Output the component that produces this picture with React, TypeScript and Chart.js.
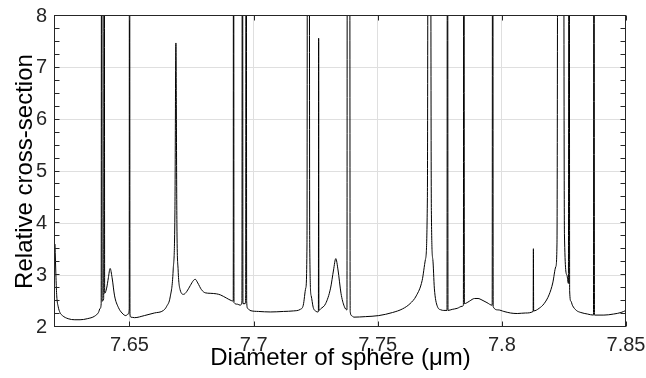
import { useEffect, useRef } from 'react';
import { Chart, registerables } from 'chart.js';

Chart.register(...registerables);

// Diameter of sphere (µm)
const diameter = [
  7.6200, 7.6204, 7.6207, 7.6213, 7.6220, 7.6230, 7.6253, 7.6280, 7.6301, 7.6330,
  7.6360, 7.6375, 7.6382, 7.6386, 7.6388, 7.6390, 7.6396, 7.6398, 7.6400, 7.6408,
  7.6415, 7.6422, 7.6430, 7.6440, 7.6455, 7.6470, 7.6485, 7.6495, 7.6499, 7.6500,
  7.6502, 7.6506, 7.6520, 7.6560, 7.6600, 7.6637, 7.6650, 7.6664, 7.6676, 7.6683,
  7.6687, 7.6691, 7.6696, 7.6704, 7.6718, 7.6730, 7.6745, 7.6758, 7.6765, 7.6775,
  7.6790, 7.6805, 7.6825, 7.6850, 7.6866, 7.6890, 7.6910, 7.6918, 7.6919, 7.6921,
  7.6935, 7.6946, 7.6953, 7.6955, 7.6957, 7.6966, 7.6968, 7.6970, 7.6972, 7.6976,
  7.6985, 7.7020, 7.7067, 7.7120, 7.7160, 7.7188, 7.7200, 7.7210, 7.7215, 7.7218,
  7.7223, 7.7226, 7.7232, 7.7240, 7.7252, 7.7259, 7.7261, 7.7262, 7.7263, 7.7270,
  7.7290, 7.7310, 7.7322, 7.7331, 7.7340, 7.7352, 7.7365, 7.7376, 7.7378, 7.7386,
  7.7389, 7.7395, 7.7403, 7.7450, 7.7504, 7.7560, 7.7600, 7.7630, 7.7655, 7.7679,
  7.7692, 7.7700, 7.7705, 7.7710, 7.7716, 7.7722, 7.7728, 7.7740, 7.7755, 7.7766,
  7.7779, 7.7781, 7.7783, 7.7800, 7.7820, 7.7840, 7.7845, 7.7847, 7.7849, 7.7856,
  7.7870, 7.7890, 7.7904, 7.7920, 7.7940, 7.7961, 7.7963, 7.7965, 7.7985, 7.8008,
  7.8035, 7.8062, 7.8095, 7.8126, 7.8127, 7.8128, 7.8150, 7.8170, 7.8190, 7.8205,
  7.8217, 7.8222, 7.8228, 7.8246, 7.8252, 7.8262, 7.8268, 7.8271, 7.8273, 7.8278,
  7.8284, 7.8300, 7.8318, 7.8345, 7.8369, 7.8371, 7.8373, 7.8411, 7.8450, 7.8480,
  7.8500,
];

// Relative cross-section (values above 8 are clipped by the axes)
const crossSection = [
  3.60, 2.95, 2.60, 2.39, 2.28, 2.22, 2.16, 2.14, 2.14, 2.16,
  2.21, 2.28, 2.36, 2.45, 20, 2.50, 2.55, 20, 2.65, 2.75,
  2.95, 3.13, 2.95, 2.60, 2.38, 2.27, 2.22, 2.25, 2.35, 20,
  2.25, 2.19, 2.18, 2.22, 2.27, 2.32, 2.40, 2.58, 3.10, 4.20,
  7.48, 4.00, 3.10, 2.72, 2.63, 2.68, 2.80, 2.90, 2.92, 2.85,
  2.72, 2.66, 2.65, 2.64, 2.62, 2.56, 2.51, 2.50, 20, 2.47,
  2.44, 2.42, 2.50, 20, 2.45, 2.45, 2.60, 20, 2.50, 2.36,
  2.32, 2.30, 2.29, 2.30, 2.31, 2.34, 2.42, 2.75, 3.60, 20,
  20, 3.60, 2.60, 2.38, 2.30, 2.29, 2.30, 7.57, 2.32, 2.35,
  2.45, 2.75, 3.10, 3.32, 3.10, 2.65, 2.40, 2.33, 20, 20,
  2.30, 2.22, 2.19, 2.20, 2.22, 2.28, 2.35, 2.45, 2.60, 2.90,
  3.30, 4.50, 20, 20, 4.25, 3.30, 2.75, 2.40, 2.33, 2.32,
  2.32, 20, 2.32, 2.34, 2.36, 2.40, 2.42, 20, 2.45, 2.46,
  2.50, 2.55, 2.55, 2.52, 2.47, 2.42, 20, 2.39, 2.33, 2.30,
  2.27, 2.26, 2.27, 2.30, 3.51, 2.31, 2.36, 2.45, 2.62, 2.85,
  3.16, 3.60, 20, 20, 3.80, 3.00, 2.84, 20, 2.70, 2.50,
  2.42, 2.32, 2.28, 2.25, 2.23, 20, 2.23, 2.23, 2.25, 2.28,
  2.32,
];

const xTickValues = [7.65, 7.7, 7.75, 7.8, 7.85];
const xTickLabels = ['7.65', '7.7', '7.75', '7.8', '7.85'];
const yTickValues = [2, 3, 4, 5, 6, 7, 8];
const yTickLabels = ['2', '3', '4', '5', '6', '7', '8'];
const yMinorTickValues = [
  2, 2.25, 2.5, 2.75, 3, 3.25, 3.5, 3.75, 4, 4.25, 4.5, 4.75, 5,
  5.25, 5.5, 5.75, 6, 6.25, 6.5, 6.75, 7, 7.25, 7.5, 7.75, 8,
];

const FONT = "'Liberation Sans', Arial, Helvetica, sans-serif";
const AXIS_COLOR = '#262626';
const GRID_COLOR = '#dfdfdf';

const framePlugin = {
  id: 'frame',
  afterDatasetsDraw(chart: any) {
    const { ctx, chartArea: a, scales } = chart;
    const x = scales.x;
    const y = scales.y;
    const L = 5;
    ctx.save();
    ctx.strokeStyle = AXIS_COLOR;
    ctx.lineWidth = 1;
    ctx.beginPath();
    const top = a.top - 0.5;
    const bottom = a.bottom - 0.5;
    const left = a.left - 0.5;
    const right = a.right - 0.5;
    for (const v of xTickValues) {
      const px = Math.round(x.getPixelForValue(v)) + 0.5;
      ctx.moveTo(px, bottom);
      ctx.lineTo(px, bottom - L);
      ctx.moveTo(px, top);
      ctx.lineTo(px, top + L);
    }
    for (const v of yMinorTickValues) {
      const py = Math.round(y.getPixelForValue(v)) - 0.5;
      ctx.moveTo(left, py);
      ctx.lineTo(left + L, py);
      ctx.moveTo(right, py);
      ctx.lineTo(right - L, py);
    }
    ctx.stroke();
    ctx.strokeRect(left, top, right - left, bottom - top);
    ctx.restore();
  },
};

export default function App() {
  const canvasRef = useRef<HTMLCanvasElement | null>(null);

  useEffect(() => {
    document.body.style.margin = '0';
    const canvas = canvasRef.current;
    if (!canvas) return;
    const points = diameter.map((d, i) => ({ x: d, y: crossSection[i] }));
    const chart = new Chart(canvas, {
      type: 'line',
      data: {
        datasets: [
          {
            data: points,
            borderColor: '#000000',
            borderWidth: 1,
            pointRadius: 0,
            fill: false,
            cubicInterpolationMode: 'monotone',
          },
        ],
      },
      options: {
        responsive: false,
        animation: false,
        devicePixelRatio: 1,
        layout: { padding: { top: 16, right: 20, left: 0, bottom: 0 } },
        plugins: {
          legend: { display: false },
          tooltip: { enabled: false },
        },
        scales: {
          x: {
            type: 'linear',
            min: 7.62,
            max: 7.85,
            afterBuildTicks: (scale: any) => {
              scale.ticks = xTickValues.map((v) => ({ value: v }));
            },
            afterFit: (scale: any) => {
              scale.height = 51;
              scale.paddingLeft = 0;
              scale.paddingRight = 0;
            },
            border: { display: false },
            grid: {
              drawTicks: false,
              color: (c: any) =>
                c.tick && c.tick.value > 7.62 && c.tick.value < 7.849 ? GRID_COLOR : 'rgba(0,0,0,0)',
              lineWidth: 1,
            },
            ticks: {
              autoSkip: false,
              maxRotation: 0,
              padding: 6,
              color: AXIS_COLOR,
              font: { family: FONT, size: 20 },
              callback: (_v: any, i: number) => xTickLabels[i],
            },
            title: {
              display: true,
              text: 'Diameter of sphere (μm)',
              color: '#000000',
              font: { family: FONT, size: 24 },
              padding: { top: 0, bottom: 5 },
            },
          },
          y: {
            type: 'linear',
            min: 2,
            max: 8,
            afterBuildTicks: (scale: any) => {
              scale.ticks = yTickValues.map((v) => ({ value: v }));
            },
            afterFit: (scale: any) => {
              scale.width = 55;
              scale.paddingTop = 0;
              scale.paddingBottom = 0;
            },
            border: { display: false },
            grid: {
              drawTicks: false,
              color: (c: any) =>
                c.tick && c.tick.value > 2.01 && c.tick.value < 7.99 ? GRID_COLOR : 'rgba(0,0,0,0)',
              lineWidth: 1,
            },
            ticks: {
              padding: 8,
              color: AXIS_COLOR,
              font: { family: FONT, size: 20 },
              callback: (_v: any, i: number) => yTickLabels[i],
            },
            title: {
              display: true,
              text: 'Relative cross-section',
              color: '#000000',
              font: { family: FONT, size: 24 },
              padding: { top: 11, bottom: 0 },
            },
          },
        },
      },
      plugins: [framePlugin],
    });
    return () => chart.destroy();
  }, []);

  return (
    <div style={{ position: 'absolute', left: 0, top: 0, width: 646, height: 378 }}>
      <canvas ref={canvasRef} width={646} height={378} style={{ display: 'block' }} />
    </div>
  );
}
